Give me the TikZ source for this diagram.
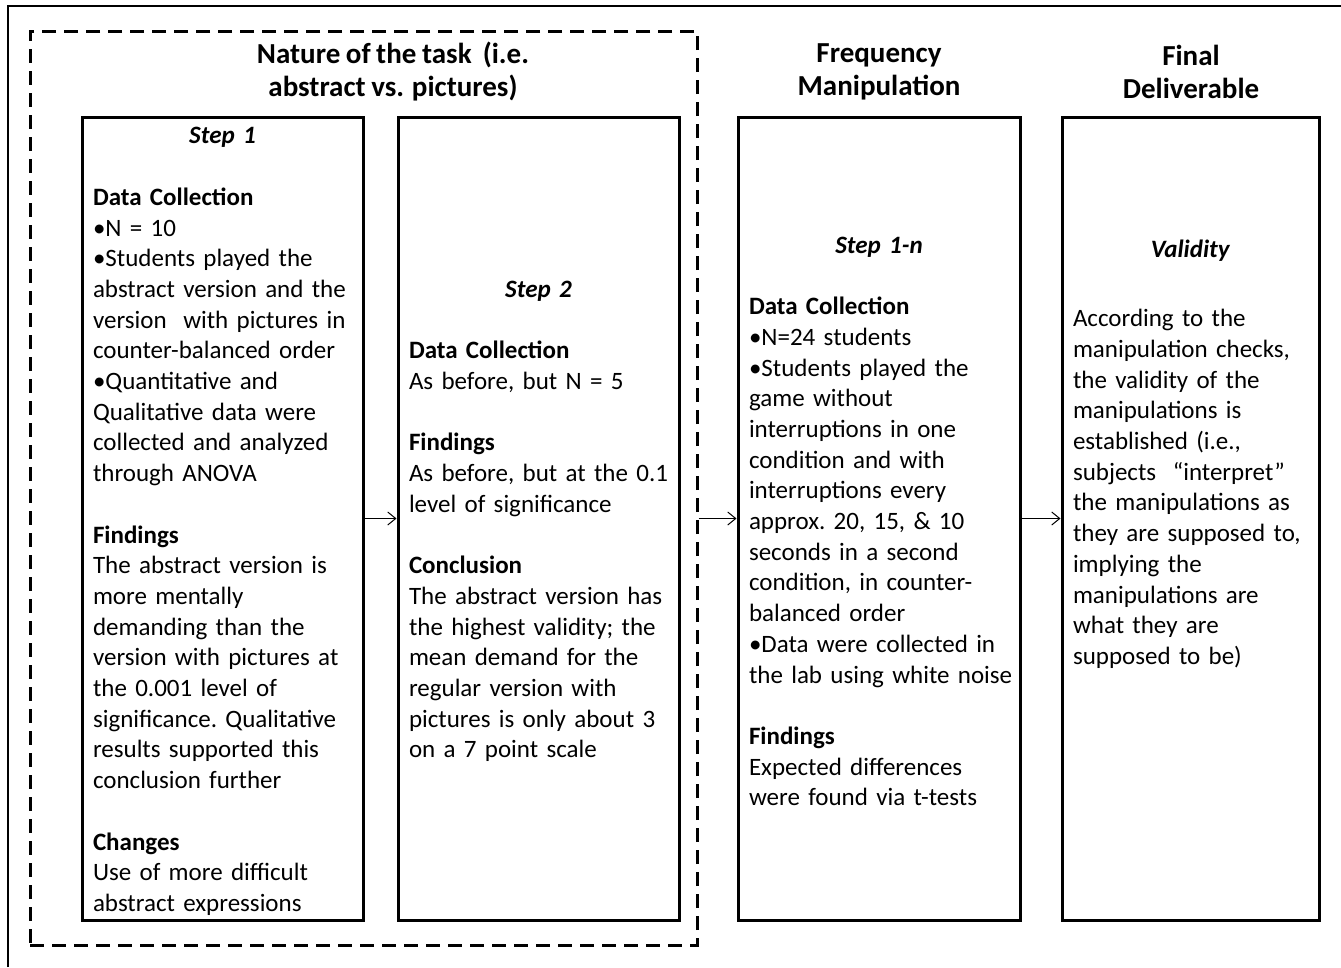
\documentclass[tikz,border=0pt]{standalone}
\usepackage{fontspec}
\setmainfont{Carlito}[WordSpace=0.85]
\usetikzlibrary{arrows.meta}
\newcommand{\stephead}[1]{\raisebox{0pt}[\dimexpr\height+6pt\relax][\depth]{\makebox[\linewidth]{\textbf{\textit{#1}}}}}
\newcommand{\gap}{\\[30.7pt]}
\tikzset{
  stepbox/.style={draw, line width=3pt, minimum height=803pt, text width=#1,
    inner xsep=11pt, inner ysep=0pt, align=left,
    font=\fontsize{25}{30.7}\selectfont\frenchspacing},
  colhead/.style={align=center, font=\fontsize{29}{33}\selectfont\bfseries},
  conn/.style={-{Straight Barb[length=8pt,width=13pt]}, line width=1pt},
}
\begin{document}
\begin{tikzpicture}[x=1pt,y=-1pt]
\useasboundingbox (0,0) rectangle (1341,967);
\draw[line width=2pt] (8,967)--(8,6)--(1341,6);
% dashed frame round the first two steps
\node[draw, dash pattern=on 14pt off 8pt, line width=3pt,
  minimum width=667pt, minimum height=914pt] (task) at (363.5,488) {};
\node[colhead] (taskhead) at (393,72) {Nature of the task\ \ (i.e.\\abstract vs. pictures)};
\node[colhead] (freqhead) at (879,72) {Frequency\\Manipulation};
\node[colhead] (finalhead) at (1191,72) {Final\\Deliverable};
% the four boxes
\node[stepbox=259pt] (step1) at (222.5,518.5) {\stephead{Step 1}\gap
\textbf{Data Collection}\\
•N = 10\\
•Students played the\\
abstract version and the\\
version\ \ with pictures in\\
counter-balanced order\\
•Quantitative and\\
Qualitative data were\\
collected and analyzed\\
through ANOVA\gap
\textbf{Findings}\\
The abstract version is\\
more mentally\\
demanding than the\\
version with pictures at\\
the 0.001 level of\\
significance. Qualitative\\
results supported this\\
conclusion further\gap
\textbf{Changes}\\
Use of more difficult\\
abstract expressions};
\node[stepbox=259pt] (step2) at (538.5,518.5) {\stephead{Step 2}\gap
\textbf{Data Collection}\\
As before, but N = 5\gap
\textbf{Findings}\\
As before, but at the 0.1\\
level of significance\gap
\textbf{Conclusion}\\
The abstract version has\\
the highest validity; the\\
mean demand for the\\
regular version with\\
pictures is only about 3\\
on a 7 point scale};
\node[stepbox=260pt] (step3) at (879,518.5) {\stephead{Step 1-\textit{n}}\gap
\textbf{Data Collection}\\
•N=24 students\\
•Students played the\\
game without\\
interruptions in one\\
condition and with\\
interruptions every\\
approx. 20, 15, \& 10\\
seconds in a second\\
condition, in counter-\\
balanced order\\
•Data were collected in\\
\mbox{the lab using white noise}\gap
\textbf{Findings}\\
Expected differences\\
were found via t-tests};
\node[stepbox=235pt] (step4) at (1190.5,518.5) {\stephead{Validity}\\[38.7pt]
According to the\\
manipulation checks,\\
the validity of the\\
manipulations is\\
established (i.e.,\\
subjects\ \ “interpret”\\
the manipulations as\\
they are supposed to,\\
implying the\\
manipulations are\\
what they are\\
supposed to be)\\[108pt]\mbox{}};
% arrows between the steps
\draw[conn] (step1.east) -- (step2.west);
\draw[conn] (task.east |- step3.west) -- (step3.west);
\draw[conn] (step3.east) -- (step4.west);
\end{tikzpicture}
\end{document}
